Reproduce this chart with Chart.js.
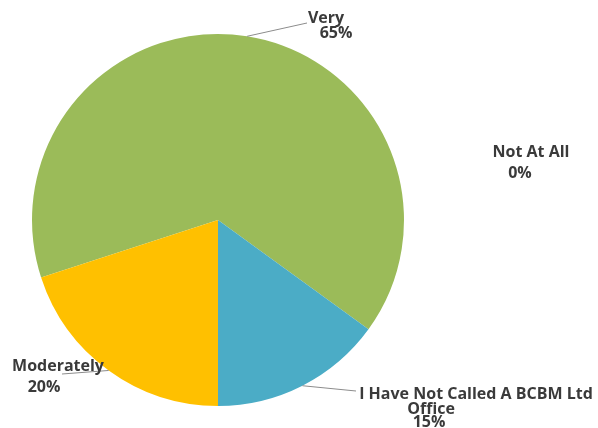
<!DOCTYPE html>
<html>
<head>
<meta charset="utf-8">
<script src="https://cdn.jsdelivr.net/npm/chart.js@4"></script>
<style>
    html, body { margin: 0; padding: 0; background: #fff; }
    #wrap { width: 598px; height: 428px; }
</style>
</head>
<body>
<div id="wrap"><canvas id="pie-chart"></canvas></div>
<script>
const categories = ['Very', 'Not At All', 'I Have Not Called A BCBM Ltd Office', 'Moderately'];
const percents = [65, 0, 15, 20];
const sliceColors = ['#9BBB59', '#C0504D', '#4BACC6', '#FFC000'];

// where each label sits (line texts, centre points) and where its leader line ends
const labelSpots = [
    { lines: [['Very', 326, 18], ['65%', 336, 33]], lineTo: [307, 23] },
    { lines: [['Not At All', 531, 152], ['0%', 520, 173]], lineTo: null },
    { lines: [['I Have Not Called A BCBM Ltd', 476, 394], ['Office', 431, 409], ['15%', 429, 422]], lineTo: [356, 391] },
    { lines: [['Moderately', 58, 366], ['20%', 44, 387]], lineTo: [62, 374] }
];

const pieLabels = {
    id: 'pieLabels',
    afterDraw(chart) {
        const c = chart.ctx;
        const meta = chart.getDatasetMeta(0);
        c.save();
        meta.data.forEach((arc, i) => {
            const spot = labelSpots[i];
            if (spot.lineTo) {
                const mid = (arc.startAngle + arc.endAngle) / 2;
                const sx = arc.x + Math.cos(mid) * arc.outerRadius;
                const sy = arc.y + Math.sin(mid) * arc.outerRadius;
                c.strokeStyle = '#8c8c8c';
                c.lineWidth = 1;
                c.beginPath();
                c.moveTo(sx, sy);
                c.lineTo(spot.lineTo[0], spot.lineTo[1]);
                c.stroke();
            }
            c.fillStyle = '#3a3a3a';
            c.font = 'bold 16px "Open Sans", sans-serif';
            c.textAlign = 'center';
            c.textBaseline = 'middle';
            spot.lines.forEach(l => c.fillText(l[0], l[1], l[2]));
        });
        c.restore();
    }
};

new Chart(document.getElementById('pie-chart'), {
    type: 'pie',
    data: {
        labels: categories,
        datasets: [{
            data: percents,
            backgroundColor: sliceColors,
            borderWidth: 0
        }]
    },
    options: {
        responsive: true,
        maintainAspectRatio: false,
        animation: false,
        rotation: 252,
        layout: { padding: { top: 34, bottom: 22, left: 32, right: 194 } },
        plugins: {
            legend: { display: false },
            tooltip: { enabled: false }
        }
    },
    plugins: [pieLabels]
});
</script>
</body>
</html>
